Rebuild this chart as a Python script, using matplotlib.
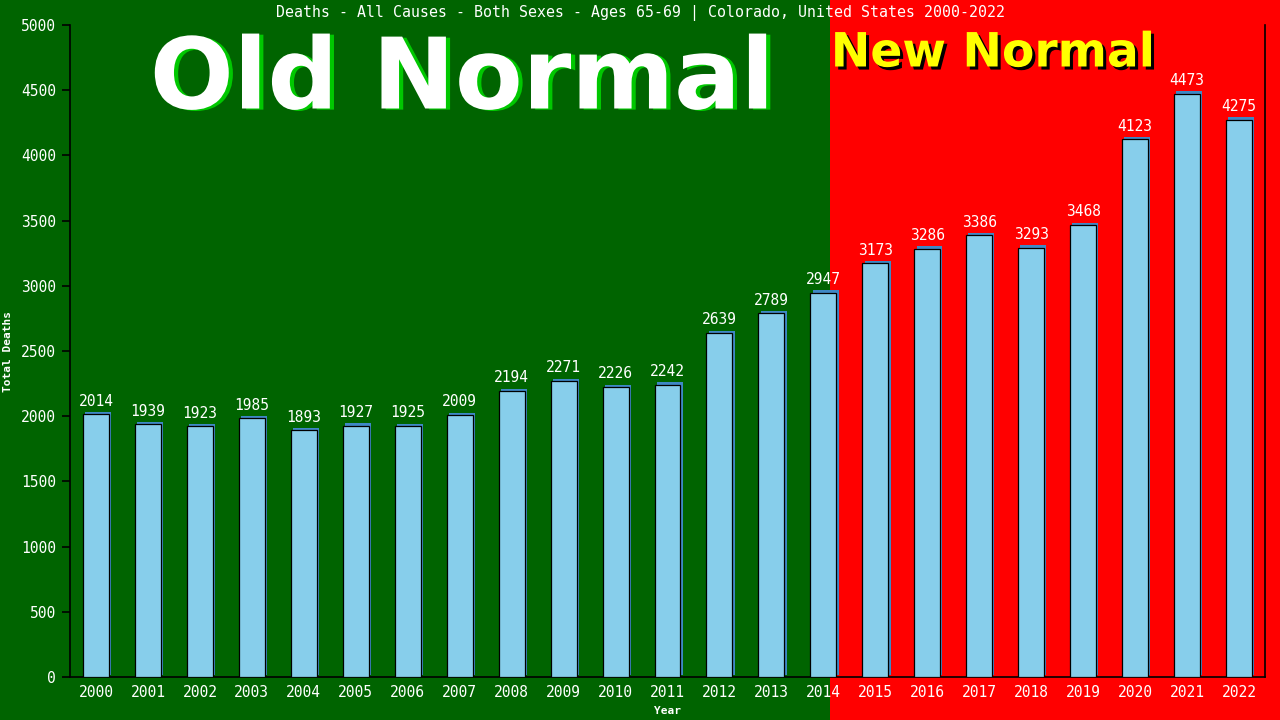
import matplotlib
matplotlib.use("Agg")
import matplotlib.pyplot as plt
import matplotlib.patheffects as pe
from matplotlib.patches import Rectangle

years = [str(y) for y in range(2000, 2023)]
deaths = [2014, 1939, 1923, 1985, 1893, 1927, 1925, 2009, 2194, 2271, 2226, 2242,
          2639, 2789, 2947, 3173, 3286, 3386, 3293, 3468, 4123, 4473, 4275]
yticks = [0, 500, 1000, 1500, 2000, 2500, 3000, 3500, 4000, 4500, 5000]
title = "Deaths - All Causes - Both Sexes - Ages 65-69 | Colorado, United States 2000-2022"

GREEN = "#006400"
RED = "#ff0000"
MONO = "DejaVu Sans Mono"

fig = plt.figure(figsize=(12.8, 7.2), dpi=100)
fig.patch.set_facecolor(GREEN)
red = Rectangle((830 / 1280, 0), 1 - 830 / 1280, 1, transform=fig.transFigure,
                facecolor=RED, edgecolor="none", zorder=-10)
fig.patches.append(red)

ax = fig.add_axes([70 / 1280, 1 - 677 / 720, (1265 - 70) / 1280, (677 - 25) / 720])
ax.set_facecolor("none")
ax.set_zorder(1)

x = list(range(len(years)))
bars = ax.bar(x, deaths, width=0.5, color="#87ceeb", edgecolor="black", linewidth=0.9, zorder=3)
for b in bars:
    b.set_path_effects([pe.SimplePatchShadow(offset=(1.6, 1.6), shadow_rgbFace="#3f88c5", alpha=1.0),
                        pe.Normal()])

for xi, v in zip(x, deaths):
    ax.annotate(str(v), (xi, v), xytext=(0, 4), textcoords="offset points", ha="center", va="bottom",
                color="white", fontsize=10.5, family=MONO, zorder=4)

ax.set_xlim(-0.5, len(years) - 0.5)
ax.set_ylim(0, 5000)
ax.set_xticks(x)
ax.set_xticklabels(years, family=MONO, fontsize=10.5, color="white")
ax.set_yticks(yticks)
ax.set_yticklabels([str(t) for t in yticks], family=MONO, fontsize=10.5, color="white")
ax.tick_params(axis="y", length=6, width=1.2, color="black", pad=4)
ax.tick_params(axis="x", length=0, pad=6)
for s in ["left", "right", "bottom"]:
    ax.spines[s].set_color("black")
    ax.spines[s].set_linewidth(1.2)
ax.spines["top"].set_visible(False)

ax.set_ylabel("Total Deaths", family=MONO, fontsize=8, fontweight="bold", color="white", labelpad=6)
ax.set_xlabel("Year", family=MONO, fontsize=8, fontweight="bold", color="white", labelpad=4)

fig.text(0.5, 1 - 13 / 720, title, ha="center", va="center", color="white", fontsize=10.75, family=MONO)

fig.text(462 / 1280, 1 - 81 / 720, "Old Normal", ha="center", va="center", color="white",
         fontsize=71, fontweight="bold", family="DejaVu Sans",
         path_effects=[pe.withSimplePatchShadow(offset=(3, -0.8), shadow_rgbFace="#00c800", alpha=1.0)])
fig.text(993 / 1280, 1 - 54 / 720, "New Normal", ha="center", va="center", color="#ffff00",
         fontsize=34, fontweight="bold", family="DejaVu Sans",
         path_effects=[pe.withSimplePatchShadow(offset=(2.2, -2.2), shadow_rgbFace="black", alpha=1.0)])

fig.savefig("out.png", dpi=100, facecolor=fig.get_facecolor())
